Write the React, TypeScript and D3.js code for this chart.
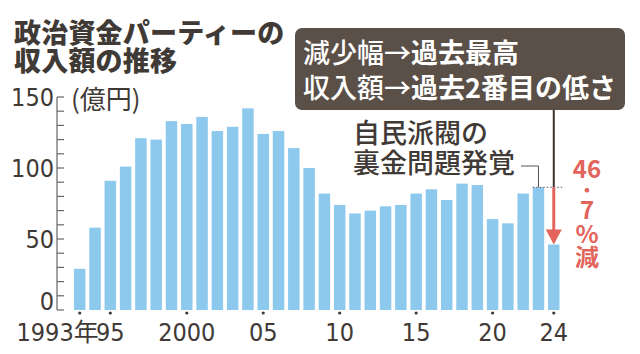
import * as d3 from 'd3'

const years = d3.range(1993, 2025)
const income = [
  29, 58, 91, 101, 121, 120, 133, 131, 136, 126, 129, 142, 124, 126, 114, 100,
  82, 74, 68, 70, 73, 74, 82, 85, 77.5, 89, 88, 64, 61, 82, 86.4, 46.1,
]
const xTickYears = [1993, 1995, 2000, 2005, 2010, 2015, 2020, 2024]
const xTickLabels = ['1993年', '95', '2000', '05', '10', '15', '20', '24']
const yLabelTicks = [0, 50, 100, 150]
const titleLines = ['政治資金パーティーの', '収入額の推移']
const noteLines = ['自民派閥の', '裏金問題発覚']
const dropLabel = ['46', '・', '7', '%', '減']

const W = 640
const H = 354
const CJK = '"Noto Sans CJK JP", sans-serif'
const NUM = '"Liberation Sans Narrow", "DejaVu Sans Condensed", "Noto Sans CJK JP", sans-serif'
const ink = '#3f3a35'
const barFill = '#8cc9ec'
const red = '#e2645b'

export default function App() {
  const x = d3.scaleBand<number>().domain(years).range([74, 559.5]).paddingInner(0.25).paddingOuter(0)
  const y = d3.scaleLinear().domain([0, 150]).range([310, 97])
  const minorTicks = d3.range(0, 151, 10)
  const cx = (yr: number) => (x(yr) ?? 0) + x.bandwidth() / 2

  const prev = income[income.length - 2]
  const last = income[income.length - 1]
  const prevYear = years[years.length - 2]
  const lastYear = years[years.length - 1]
  const arrowX = cx(lastYear)
  const dropY = [178, 197, 219, 243, 266]

  return (
    <svg width={W} height={H} style={{ position: 'absolute', left: 0, top: 0, background: '#fff' }}>
      {/* title */}
      {titleLines.map((t, i) => (
        <text key={t} x={14} y={43 + i * 28} fontFamily={CJK} fontWeight={900} fontSize={27}
          letterSpacing={0.2} fill={ink}>{t}</text>
      ))}

      {/* bars */}
      {years.map((yr, i) => (
        <rect key={yr} x={x(yr)} y={y(income[i])} width={x.bandwidth()} height={y(0) - y(income[i])} fill={barFill} />
      ))}

      {/* y axis */}
      <line x1={57} x2={57} y1={y(150)} y2={y(0)} stroke="#666" strokeWidth={1.2} />
      {minorTicks.map(v => (
        <line key={v} x1={57} x2={64} y1={y(v)} y2={y(v)} stroke="#666" strokeWidth={1.2} />
      ))}
      {yLabelTicks.map(v => (
        <text key={v} x={54} y={y(v) + (v === 0 ? 0 : 9)} textAnchor="end" fontFamily={NUM} fontSize={25} fill={ink}>{v}</text>
      ))}
      <text x={71} y={109} fontFamily={CJK} fontSize={26} fill={ink}>(億円)</text>

      {/* x axis labels */}
      {xTickYears.map((yr, i) => (
        <g key={yr}>
          <circle cx={cx(yr)} cy={313} r={1.6} fill={ink} />
          <text x={i === 0 ? cx(yr) + 19 : cx(yr)} y={341} textAnchor={i === 0 ? 'end' : 'middle'}
            fontFamily={NUM} fontSize={25} fill={ink}>{xTickLabels[i]}</text>
        </g>
      ))}

      {/* callout */}
      <rect x={295} y={28} width={330} height={82} rx={7} fill="#5b5047" />
      <text x={303} y={63} fontFamily={CJK} fontSize={27} fill="#fff">
        <tspan fontWeight={500}>減少幅→</tspan><tspan fontWeight={700}>過去最高</tspan>
      </text>
      <text x={303} y={98} fontFamily={CJK} fontSize={27} fill="#fff">
        <tspan fontWeight={500}>収入額→</tspan><tspan fontWeight={700}>過去2番目の低さ</tspan>
      </text>
      <line x1={arrowX} x2={arrowX} y1={110} y2={y(prev)} stroke="#3a332d" strokeWidth={2} />

      {/* scandal note */}
      {noteLines.map((t, i) => (
        <text key={t} x={353} y={143 + i * 30} fontFamily={CJK} fontWeight={500} fontSize={27} fill={ink}>{t}</text>
      ))}
      <path d={`M521,166H${cx(prevYear)}V${y(prev)}`} fill="none" stroke="#555" strokeWidth={1} />
      <line x1={x(prevYear)} x2={563} y1={y(prev)} y2={y(prev)} stroke="#555" strokeWidth={1} strokeDasharray="1.5,2" />

      {/* drop arrow */}
      <line x1={arrowX} x2={arrowX} y1={y(prev)} y2={y(last) - 13} stroke={red} strokeWidth={3} />
      <path d={`M${arrowX - 8},${y(last) - 15}L${arrowX + 8},${y(last) - 15}L${arrowX},${y(last)}Z`} fill={red} />
      {dropLabel.map((t, i) => (
        <text key={i} x={587} y={dropY[i]} textAnchor="middle" fontFamily={CJK} fontWeight={700}
          fontSize={i === 1 ? 18 : 24} fill={red}>{t}</text>
      ))}
    </svg>
  )
}
